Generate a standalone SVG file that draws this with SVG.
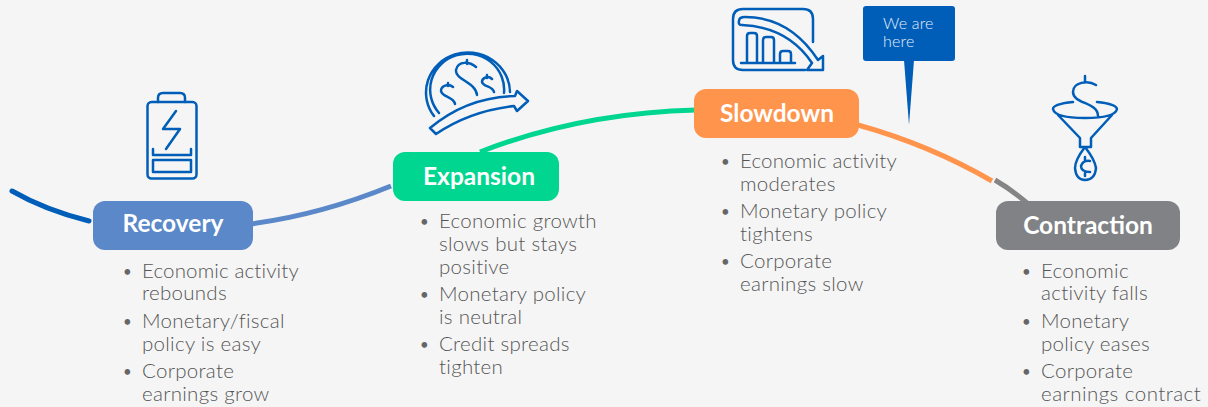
<svg xmlns="http://www.w3.org/2000/svg" width="1208" height="407" viewBox="0 0 1208 407">
<style>
text{font-family:"Lato","Noto Sans",sans-serif}
.t{font-size:20.500px;font-weight:300;fill:#555;letter-spacing:.28px}
.b{font-size:15px;font-weight:400;fill:#666;letter-spacing:0}
.h{font-size:24.500px;font-weight:700;fill:#fff;text-anchor:middle}
.i{fill:none;stroke:#005eb8;stroke-width:2.500;stroke-linecap:round;stroke-linejoin:round}
.c{fill:none;stroke-width:5}
</style>
<rect width="1208" height="407" fill="#f5f5f5"/>
<g id="connectors">
<path class="c" d="M12 191Q45 210 89 221" stroke="#005eb8" stroke-linecap="round"/>
<path class="c" d="M250 224Q320 215 391 186" stroke="#5a88c9"/>
<path class="c" d="M480 152Q580 113 696 110" stroke="#00d68f"/>
<path class="c" d="M858 125Q930 145 992 181" stroke="#ff944d"/>
<path class="c" d="M995 180Q1012 190 1027 203" stroke="#858585" stroke-width="6"/>
</g>
<g id="recovery"><rect x="93" y="201" width="160" height="49" rx="12" fill="#5a88c9"/><text class="h" x="173" y="232">Recovery</text>
<g class="i"><rect x="147.500" y="102" width="49" height="76.500" rx="4"/><path d="M158 102V98Q158 93 163 93H180Q185 93 185 98V102M176 111L163 129H180L166 149M153 149V155H191V149M153 160H191V172H153Z"/></g>
<text class="t"><tspan class="b" x="123" y="277">•</tspan><tspan x="142" y="278" textLength="157">Economic activity</tspan><tspan x="142" y="300">rebounds</tspan><tspan class="b" x="123" y="327">•</tspan><tspan x="142" y="328">Monetary/fiscal</tspan><tspan x="142" y="351">policy is easy</tspan><tspan class="b" x="123" y="377">•</tspan><tspan x="142" y="378">Corporate</tspan><tspan x="142" y="401">earnings grow</tspan></text></g>
<g id="expansion"><rect x="393" y="152" width="166" height="49" rx="12" fill="#00d68f"/><text class="h" x="479" y="185">Expansion</text>
<g class="i"><path d="M434 116A42 40 0 1 1 510 92M439 113A37 36 0 1 1 504 93M430 128L436 134Q470 111 514 106L517 111L528 101L517 91L515 96Q467 97 430 128ZM467 60V64M476 67C470 62 458 60 456 70C455 80 476 82 477 95M448 83V86M453 87C448 83 441 86 441 91C442 97 454 97 455 104M487 75V78M492 79C488 75 482 78 482 82C483 87 493 86 494 92"/></g>
<text class="t"><tspan class="b" x="420" y="227">•</tspan><tspan x="439" y="228">Economic growth</tspan><tspan x="439" y="251">slows but stays</tspan><tspan x="439" y="274">positive</tspan><tspan class="b" x="420" y="300">•</tspan><tspan x="439" y="301">Monetary policy</tspan><tspan x="439" y="324">is neutral</tspan><tspan class="b" x="420" y="350">•</tspan><tspan x="439" y="351">Credit spreads</tspan><tspan x="439" y="374">tighten</tspan></text></g>
<g id="slowdown"><rect x="694" y="89" width="165" height="49" rx="12" fill="#ff944d"/><text class="h" x="777" y="122">Slowdown</text>
<g class="i"><path d="M813 42V19Q813 9 803 9H743Q733 9 733 19V60Q733 70 743 70H805M739 21Q738 25 742 25Q788 27 812 63L807 70H823V56L818 60Q790 17 745 17Q739 17 739 21ZM741 63H795M747 63V36Q747 33 750 33H754Q757 33 757 36V63M763 63V40Q763 37 766 37H771Q774 37 774 40V63M780 63V54Q780 51 783 51H788Q791 51 791 54V63"/></g>
<text class="t"><tspan class="b" x="721" y="167">•</tspan><tspan x="740" y="168" textLength="157">Economic activity</tspan><tspan x="740" y="191">moderates</tspan><tspan class="b" x="721" y="217">•</tspan><tspan x="740" y="218">Monetary policy</tspan><tspan x="740" y="241">tightens</tspan><tspan class="b" x="721" y="267">•</tspan><tspan x="740" y="268">Corporate</tspan><tspan x="740" y="291">earnings slow</tspan></text></g>
<g id="here"><rect x="863" y="6" width="92" height="55" rx="3" fill="#005eb8"/><path d="M904 60H914L909 125Z" fill="#005eb8"/><text style="font-size:16px;font-weight:300;letter-spacing:.2px" fill="#e4eef8"><tspan x="883" y="29">We are</tspan><tspan x="883" y="47">here</tspan></text></g>
<g id="contraction"><rect x="996" y="201" width="184" height="49" rx="12" fill="#808285"/><text class="h" x="1088" y="234">Contraction</text>
<g class="i"><path d="M1085 76V82M1096 85C1088 80 1073 82 1073 92C1073 104 1098 102 1098 116M1073 102Q1053 104 1053 109Q1055 118 1085 118Q1115 118 1117 109Q1116 104 1097 102M1058 115L1080 138V147H1091V138L1112 115M1085 147Q1075 160 1075 168Q1076 180 1085 180Q1095 180 1096 168Q1095 160 1085 147ZM1090 161Q1083 160 1081 166Q1081 172 1090 172M1085 157V160M1085 173V176"/></g>
<text class="t"><tspan class="b" x="1022" y="277">•</tspan><tspan x="1041" y="278">Economic</tspan><tspan x="1041" y="300">activity falls</tspan><tspan class="b" x="1022" y="327">•</tspan><tspan x="1041" y="328">Monetary</tspan><tspan x="1041" y="351">policy eases</tspan><tspan class="b" x="1022" y="377">•</tspan><tspan x="1041" y="378">Corporate</tspan><tspan x="1041" y="401" textLength="160">earnings contract</tspan></text></g>
</svg>
